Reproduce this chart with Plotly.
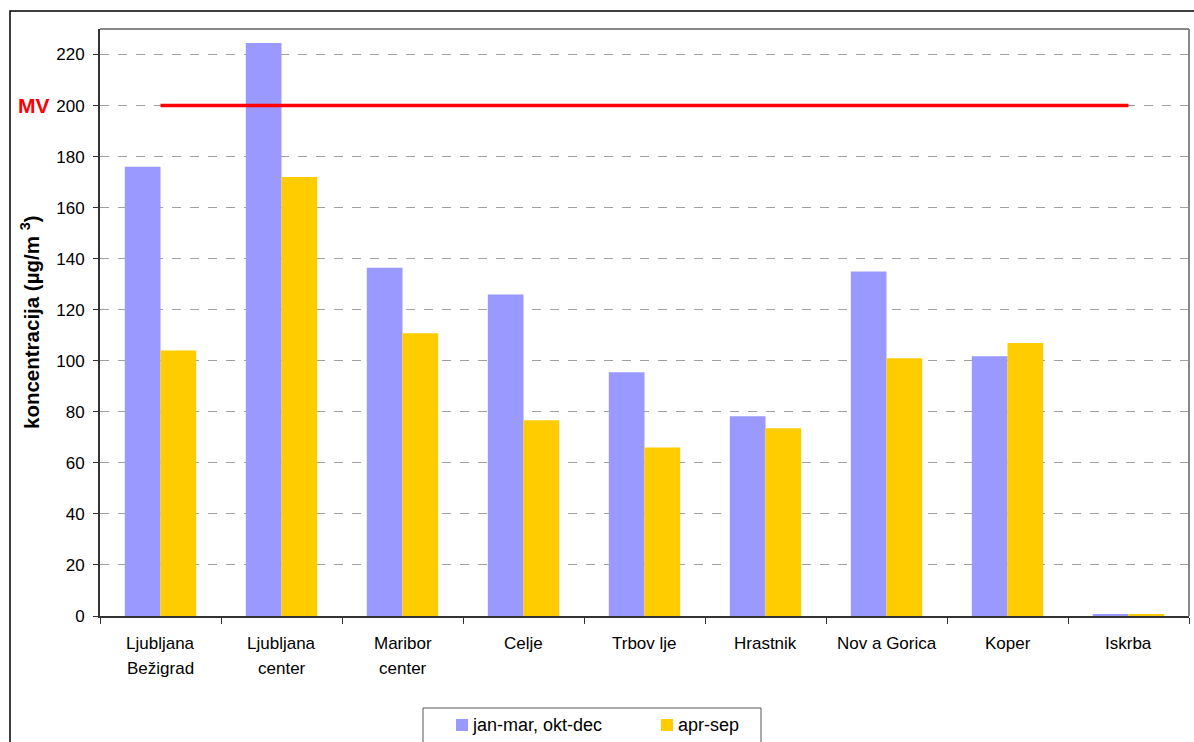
import plotly.graph_objects as go

# Station names (first and second label line) and seasonal mean concentrations
stations = ["Ljubljana Bežigrad", "Ljubljana center", "Maribor center", "Celje", "Trbovlje",
            "Hrastnik", "Nova Gorica", "Koper", "Iskrba"]
label_line1 = ["Ljubljana", "Ljubljana", "Maribor", "Celje", "Trbov lje",
               "Hrastnik", "Nov a Gorica", "Koper", "Iskrba"]
label_line2 = ["Bežigrad", "center", "center", "", "", "", "", "", ""]
winter = [176, 224.5, 136.5, 126, 95.5, 78.3, 135, 101.8, 0.5]
summer = [104, 172, 110.8, 76.7, 66, 73.6, 101, 107, 0.5]
series_names = ["jan-mar, okt-dec", "apr-sep"]
series_colors = ["#9999FF", "#FFCC00"]
limit_value = 200
limit_label = "MV"
y_ticks = list(range(0, 221, 20))

W, H = 1194, 742
L, R, T, B = 100, 5, 29, 126
pw, ph = W - L - R, H - T - B

def px_x(p):
    return (p - L) / pw

def px_y(p):
    return (H - B - p) / ph

FONT = "Liberation Sans, Arial, sans-serif"

fig = go.Figure()
for name, vals, col in zip(series_names, [winter, summer], series_colors):
    fig.add_trace(go.Bar(x=stations, y=vals, name=name,
                         marker=dict(color=col, line_width=0), showlegend=False))
fig.add_trace(go.Scatter(x=[stations[0], stations[-1]], y=[limit_value, limit_value],
                         mode="lines", line=dict(color="#FF0000", width=3.5),
                         showlegend=False, hoverinfo="skip"))

annotations = []
for s, l1, l2 in zip(stations, label_line1, label_line2):
    annotations.append(dict(x=s, y=px_y(643), xref="x", yref="paper", text=l1,
                            xanchor="center", yanchor="middle", showarrow=False,
                            font=dict(size=17, color="black", family=FONT)))
    if l2:
        annotations.append(dict(x=s, y=px_y(668), xref="x", yref="paper", text=l2,
                                xanchor="center", yanchor="middle", showarrow=False,
                                font=dict(size=17, color="black", family=FONT)))

annotations.append(dict(x=px_x(16), y=limit_value, xref="paper", yref="y",
                        xanchor="left", yanchor="middle",
                        text="<b>" + limit_label + "</b>", showarrow=False,
                        font=dict(size=21, color="#FF0000", family=FONT)))
annotations.append(dict(x=px_x(30), y=px_y(323), xref="paper", yref="paper",
                        xanchor="center", yanchor="middle",
                        text="<b>koncentracija (µg/m <sup>3</sup>)</b>", textangle=-90,
                        showarrow=False, font=dict(size=20.5, color="black", family=FONT)))

shapes = [
    # outer frame
    dict(type="rect", xref="paper", yref="paper", x0=px_x(10), x1=px_x(1210),
         y0=px_y(760), y1=px_y(11), line=dict(color="black", width=1.5), layer="below"),
    # plot-area frame, top and right
    dict(type="line", xref="paper", yref="paper", x0=0, x1=1, y0=1, y1=1,
         line=dict(color="#888888", width=2)),
    dict(type="line", xref="paper", yref="paper", x0=1, x1=1, y0=0, y1=1,
         line=dict(color="#888888", width=2)),
    # legend box
    dict(type="rect", xref="paper", yref="paper", x0=px_x(423), x1=px_x(761),
         y0=px_y(760), y1=px_y(708), line=dict(color="#555555", width=1),
         fillcolor="white"),
]

# legend entries
legend_items = [(456, 470), (661, 676)]
for (sx, tx), name, col in zip(legend_items, series_names, series_colors):
    shapes.append(dict(type="rect", xref="paper", yref="paper", x0=px_x(sx), x1=px_x(sx + 12),
                       y0=px_y(731), y1=px_y(719), line_width=0, fillcolor=col))
    annotations.append(dict(x=px_x(tx), y=px_y(725), xref="paper", yref="paper",
                            xanchor="left", yanchor="middle", text=name, showarrow=False,
                            font=dict(size=18, color="black", family=FONT)))

fig.update_layout(
    width=W, height=H,
    margin=dict(l=L, r=R, t=T, b=B, autoexpand=False),
    paper_bgcolor="white", plot_bgcolor="white",
    barmode="group", bargap=0.41, bargroupgap=0,
    font=dict(family=FONT, size=17, color="black"),
    xaxis=dict(showticklabels=False, tickson="boundaries", ticks="outside", ticklen=6,
               tickcolor="#333333", showline=True, linecolor="#333333", linewidth=2,
               showgrid=False, zeroline=False),
    yaxis=dict(range=[0, 230], tickvals=y_ticks, ticks="outside", ticklen=5,
               tickcolor="#333333", showline=True, linecolor="#333333", linewidth=2,
               showgrid=True, gridcolor="#A0A0A0", griddash="dash", gridwidth=1,
               zeroline=False, tickfont=dict(size=17, color="black"), ticklabelstandoff=5),
    annotations=annotations,
    shapes=shapes,
    showlegend=False,
)

fig.write_html("out.html")
